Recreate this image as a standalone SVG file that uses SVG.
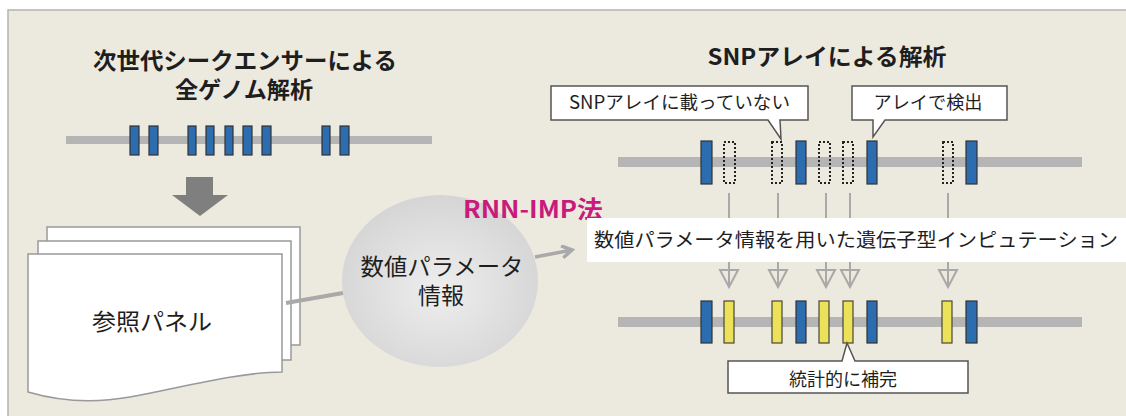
<svg xmlns="http://www.w3.org/2000/svg" width="1126" height="416" viewBox="0 0 1126 416">
<defs>
<style>
text{font-family:"Noto Sans CJK JP","Noto Sans",sans-serif;fill:#1e1e1e}
.ttl{font-size:23px;font-weight:bold;text-anchor:middle}
.chrom{fill:#b4b5b4}
.blue{fill:#2c6db0;stroke:#333;stroke-width:1.2}
.yel{fill:#ece25a;stroke:#4a4538;stroke-width:1.2}
.dot{fill:none;stroke:#222;stroke-width:2;stroke-dasharray:2 2}
.call{fill:#fff;stroke:#555;stroke-width:1.5}
.ct{font-size:18px;text-anchor:middle}
.page{fill:#fff;stroke:#999;stroke-width:1.5}
.vl{stroke:#a9a9a9;stroke-width:2;fill:none}
.tri{stroke:#a9a9a9;stroke-width:2;fill:none}
</style>
<radialGradient id="cg" cx="50%" cy="55%" r="55%">
<stop offset="0" stop-color="#eeeeee"/>
<stop offset="1" stop-color="#d5d5d5"/>
</radialGradient>
<marker id="ah" markerWidth="14" markerHeight="14" refX="11" refY="7" orient="auto" markerUnits="userSpaceOnUse">
<polyline points="1,1 11,7 1,13" fill="none" stroke="#a9a9a9" stroke-width="3.5"/>
</marker>
</defs>
<rect x="0" y="0" width="1126" height="416" fill="#fff"/>
<rect id="panel" x="8" y="10" width="1130" height="420" fill="#ece9df" stroke="#b3b3b3" stroke-width="1.5"/>

<g id="title-left">
<text class="ttl" x="245" y="69" textLength="304" lengthAdjust="spacingAndGlyphs">次世代シークエンサーによる</text>
<text class="ttl" x="244" y="98" textLength="138" lengthAdjust="spacingAndGlyphs">全ゲノム解析</text>
</g>
<g id="title-right">
<text class="ttl" x="827" y="65" textLength="239" lengthAdjust="spacingAndGlyphs">SNPアレイによる解析</text>
</g>

<g id="chrom-left">
<rect class="chrom" x="66" y="136" width="366" height="8"/>
<rect class="blue" x="130" y="126" width="9" height="29"/>
<rect class="blue" x="149" y="126" width="9" height="29"/>
<rect class="blue" x="188" y="126" width="8" height="29"/>
<rect class="blue" x="206" y="126" width="8" height="29"/>
<rect class="blue" x="225" y="126" width="8" height="29"/>
<rect class="blue" x="243" y="126" width="9" height="29"/>
<rect class="blue" x="262" y="126" width="9" height="29"/>
<rect class="blue" x="322" y="126" width="8" height="29"/>
<rect class="blue" x="340" y="126" width="9" height="29"/>
</g>

<g id="down-arrow">
<polygon points="186,177 213,177 213,195 228,195 200,216 172,195 186,195" fill="#7f7f7f"/>
</g>

<g id="reference-panel">
<rect class="page" x="47" y="227" width="253" height="118"/>
<rect class="page" x="38" y="241" width="253" height="119"/>
<path class="page" d="M28,254 H282 V372 C240,372 180,388 130,397 C90,404 55,400 28,392 Z"/>
<text x="152" y="330" font-size="23" text-anchor="middle" textLength="120" lengthAdjust="spacingAndGlyphs">参照パネル</text>
</g>

<g id="param-info">
<ellipse cx="440" cy="281" rx="98" ry="86" fill="url(#cg)"/>
<text x="442" y="275" font-size="23" text-anchor="middle" textLength="163" lengthAdjust="spacingAndGlyphs">数値パラメータ</text>
<text x="441" y="304" font-size="23" text-anchor="middle" textLength="46" lengthAdjust="spacingAndGlyphs">情報</text>
</g>

<g id="method-label">
<text x="533" y="218" font-size="24" font-weight="bold" style="fill:#c81b7c" text-anchor="middle" textLength="140" lengthAdjust="spacingAndGlyphs">RNN-IMP法</text>
</g>

<g id="imputation-box">
<rect x="587" y="218" width="545" height="44" fill="#fff"/>
<text x="594" y="247" font-size="19" textLength="524" lengthAdjust="spacingAndGlyphs">数値パラメータ情報を用いた遺伝子型インピュテーション</text>
</g>

<g id="chrom-top">
<rect class="chrom" x="618" y="157" width="464" height="10"/>
<rect class="blue" x="701" y="141" width="11" height="43"/>
<rect class="dot" x="724" y="142" width="11" height="41"/>
<rect class="dot" x="772" y="142" width="10" height="41"/>
<rect class="blue" x="796" y="141" width="10" height="43"/>
<rect class="dot" x="819" y="142" width="11" height="41"/>
<rect class="dot" x="843" y="142" width="10" height="41"/>
<rect class="blue" x="867" y="141" width="10" height="43"/>
<rect class="dot" x="943" y="142" width="10" height="41"/>
<rect class="blue" x="966" y="141" width="11" height="43"/>
</g>

<g id="chrom-bottom">
<rect class="chrom" x="618" y="317" width="464" height="10"/>
<rect class="blue" x="701" y="301" width="11" height="42"/>
<rect class="yel" x="724" y="301" width="10" height="42"/>
<rect class="yel" x="772" y="301" width="10" height="42"/>
<rect class="blue" x="796" y="301" width="10" height="42"/>
<rect class="yel" x="819" y="301" width="10" height="42"/>
<rect class="yel" x="843" y="301" width="10" height="42"/>
<rect class="blue" x="867" y="301" width="10" height="42"/>
<rect class="yel" x="942" y="301" width="10" height="42"/>
<rect class="blue" x="966" y="301" width="11" height="42"/>
</g>

<g id="callout-not-on-array">
<path class="call" d="M551,86 H808 V120 H780 L781,139 L768,120 H551 Z"/>
<text class="ct" x="679.5" y="109" textLength="221" lengthAdjust="spacingAndGlyphs">SNPアレイに載っていない</text>
</g>
<g id="callout-detected">
<path class="call" d="M852,86 H1007 V120 H885 L873,137 L873,120 H852 Z"/>
<text class="ct" x="928" y="109" textLength="109" lengthAdjust="spacingAndGlyphs">アレイで検出</text>
</g>
<g id="callout-imputed">
<path class="call" d="M728,361 H842 L847,343 L855,361 H968 V393 H728 Z"/>
<text class="ct" x="843" y="386" textLength="108" lengthAdjust="spacingAndGlyphs">統計的に補完</text>
</g>

<g id="connectors">
<line x1="286" y1="303" x2="343" y2="293" stroke="#a9a9a9" stroke-width="4"/>
<line x1="535" y1="257" x2="572" y2="250" stroke="#a9a9a9" stroke-width="3.5" marker-end="url(#ah)"/>
<g class="vl">
<line x1="729" y1="193" x2="729" y2="218"/>
<line x1="778" y1="193" x2="778" y2="218"/>
<line x1="826" y1="193" x2="826" y2="218"/>
<line x1="850" y1="193" x2="850" y2="218"/>
<line x1="948" y1="193" x2="948" y2="218"/>
<line x1="729" y1="262" x2="729" y2="286"/>
<line x1="778" y1="262" x2="778" y2="286"/>
<line x1="826" y1="262" x2="826" y2="286"/>
<line x1="850" y1="262" x2="850" y2="286"/>
<line x1="948" y1="262" x2="948" y2="286"/>
</g>
<g class="tri">
<polygon points="720,270 738,270 729,287"/>
<polygon points="769,270 787,270 778,287"/>
<polygon points="817,270 835,270 826,287"/>
<polygon points="841,270 859,270 850,287"/>
<polygon points="939,270 957,270 948,287"/>
</g>
</g>
</svg>
